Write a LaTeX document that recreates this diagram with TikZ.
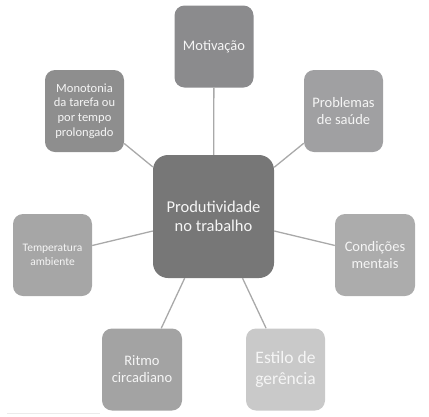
\documentclass[tikz,border=0pt]{standalone}
\usepackage{fontspec}
\setmainfont{Carlito}
\definecolor{cMot}{HTML}{8B8B8D}
\definecolor{cMon}{HTML}{8E8E8E}
\definecolor{cPro}{HTML}{A0A0A2}
\definecolor{cCon}{HTML}{ACACAC}
\definecolor{cEst}{HTML}{C9C9C9}
\definecolor{cRit}{HTML}{A3A3A3}
\definecolor{cTem}{HTML}{A6A6A6}
\definecolor{cCen}{HTML}{777777}
\definecolor{cLine}{HTML}{A9A9A9}
\definecolor{cTxt}{HTML}{F5F5F5}
\begin{document}
\begin{tikzpicture}[x=1pt,y=-1pt,
  sat/.style={rectangle, rounded corners=10pt, inner sep=0pt, minimum width=79pt, minimum height=82pt, align=center, text=cTxt, font=\fontsize{14.5}{17}\selectfont},
  hub/.style={rectangle, rounded corners=15pt, inner sep=0pt, minimum width=121pt, minimum height=123pt, align=center, text=cTxt, fill=cCen, font=\fontsize{16.5}{19.5}\selectfont},
  link/.style={draw=cLine, line width=1.3pt}]
\useasboundingbox (0,0) rectangle (429,416);
\node[hub] (cen) at (213.5,216.5) {Produtividade\\no trabalho};
\node[sat, fill=cMot] (mot) at (214,46.5) {Motivação};
\node[sat, fill=cMon, font=\fontsize{12.5}{14.7}\selectfont] (mon) at (84.5,111) {Monotonia\\da tarefa ou\\por tempo\\prolongado};
\node[sat, fill=cPro] (pro) at (343.5,111) {Problemas\\de saúde};
\node[sat, fill=cTem, font=\fontsize{11.5}{14}\selectfont] (tem) at (52.5,255) {Temperatura\\ambiente};
\node[sat, fill=cCon, minimum width=80pt] (con) at (375,255) {Condições\\mentais};
\node[sat, fill=cRit, minimum width=80pt] (rit) at (142,369.5) {Ritmo\\circadiano};
\node[sat, fill=cEst, font=\fontsize{17.5}{20.5}\selectfont] (est) at (285.5,369.5) {Estilo de\\gerência};
\foreach \n in {mot,mon,pro,tem,con,rit,est} \draw[link] (cen) -- (\n);
\coordinate (fa) at (7,413);
\coordinate (fb) at (100,413);
\draw[draw=black!8, line width=0.8pt] (fa) -- (fb);
\end{tikzpicture}
\end{document}
